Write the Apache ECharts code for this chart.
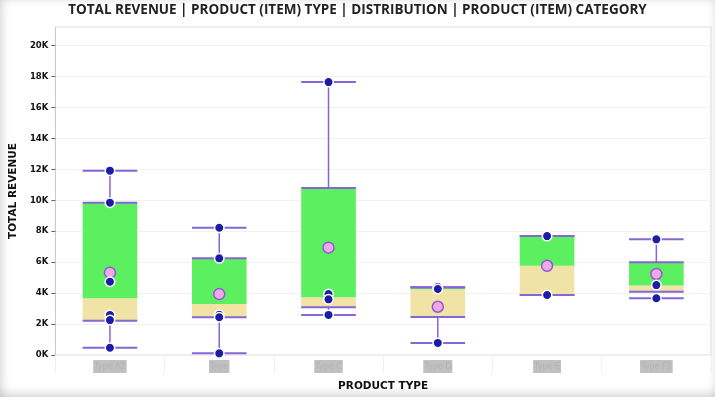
<!DOCTYPE html>
<html>
<head>
<meta charset="utf-8">
<script src="https://cdn.jsdelivr.net/npm/echarts@6/dist/echarts.min.js"></script>
<style>
  html, body { margin: 0; padding: 0; background: #fff; }
  #chart {
    width: 715px;
    height: 397px;
    background: #fff;
    box-shadow: inset 7px 0 8px -4px rgba(0, 0, 0, 0.13),
      inset 0 -11px 10px -6px rgba(0, 0, 0, 0.12),
      inset -5px 0 6px -3px rgba(0, 0, 0, 0.08),
      inset 0 6px 8px -4px rgba(0, 0, 0, 0.05);
  }
</style>
</head>
<body>
<div id="chart"></div>
<script>
// product types (names are blurred in the source picture)
var categories = ["Type A1", "Type", "Type C", "Type D", "Type E", "Type F1"];

// box stats
var lows = [470, 110, 2590, 780, 3880, 3670];
var q1s = [2220, 2440, 3080, 2460, 3880, 4090];
var medians = [3670, 3300, 3730, 4250, 5770, 4500];
var q3s = [9850, 6250, 10800, 4380, 7690, 5990];
var highs = [11920, 8230, 17650, 4380, 7690, 7480];
var means = [5320, 3940, 6940, 3120, 5770, 5240];

// individual points (dark dots)
var points = [
  [11920, 9850, 4740, 2590, 2260, 470],
  [8230, 6250, 2600, 2440, 110],
  [17650, 3940, 3600, 2590],
  [4400, 4270, 780],
  [7690, 3880],
  [7480, 4520, 3670]
];

var yTicks = [0, 2000, 4000, 6000, 8000, 10000, 12000, 14000, 16000, 18000, 20000];

var PURPLE = "#8566d6";
var GREEN = "#5cf060";
var YELLOW = "#f1e3a5";

var boxData = categories.map(function (c, i) {
  return [i, lows[i], q1s[i], medians[i], q3s[i], highs[i]];
});
var dotData = [];
points.forEach(function (arr, i) {
  arr.forEach(function (v) {
    dotData.push([i, v]);
  });
});
var meanData = means.map(function (v, i) {
  return [i, v];
});

function renderBox(params, api) {
  var i = api.value(0);
  var pLow = api.coord([i, api.value(1)]);
  var pQ1 = api.coord([i, api.value(2)]);
  var pMed = api.coord([i, api.value(3)]);
  var pQ3 = api.coord([i, api.value(4)]);
  var pHigh = api.coord([i, api.value(5)]);
  var w = api.size([1, 0])[0] * 0.5;
  var x = pQ1[0];
  var lineStyle = { stroke: PURPLE, lineWidth: 1.5 };
  var edgeStyle = { stroke: PURPLE, lineWidth: 2 };
  return {
    type: "group",
    children: [
      { type: "line", shape: { x1: x, y1: pLow[1], x2: x, y2: pQ1[1] }, style: lineStyle },
      { type: "line", shape: { x1: x, y1: pQ3[1], x2: x, y2: pHigh[1] }, style: lineStyle },
      { type: "rect", shape: { x: x - w / 2, y: pMed[1], width: w, height: pQ1[1] - pMed[1] }, style: { fill: YELLOW } },
      { type: "rect", shape: { x: x - w / 2, y: pQ3[1], width: w, height: pMed[1] - pQ3[1] }, style: { fill: GREEN } },
      { type: "line", shape: { x1: x - w / 2, y1: pLow[1], x2: x + w / 2, y2: pLow[1] }, style: edgeStyle },
      { type: "line", shape: { x1: x - w / 2, y1: pHigh[1], x2: x + w / 2, y2: pHigh[1] }, style: edgeStyle },
      { type: "line", shape: { x1: x - w / 2, y1: pQ1[1], x2: x + w / 2, y2: pQ1[1] }, style: edgeStyle },
      { type: "line", shape: { x1: x - w / 2, y1: pQ3[1], x2: x + w / 2, y2: pQ3[1] }, style: edgeStyle }
    ]
  };
}

var chart = echarts.init(document.getElementById("chart"), null, { renderer: "canvas" });
chart.setOption({
  animation: false,
  title: {
    text: "TOTAL REVENUE | PRODUCT (ITEM) TYPE | DISTRIBUTION | PRODUCT (ITEM) CATEGORY",
    left: "center",
    top: -2,
    textStyle: { fontFamily: "Open Sans", fontWeight: "bold", fontSize: 13.5, color: "#222" }
  },
  grid: {
    left: 52,
    right: 4,
    top: 27,
    bottom: 42,
    show: true,
    borderColor: "#dcdcdc",
    borderWidth: 1
  },
  xAxis: [
    {
      type: "category",
      data: categories,
      name: "PRODUCT TYPE",
      nameLocation: "middle",
      nameGap: 26,
      nameTextStyle: { fontFamily: "DejaVu Sans", fontWeight: "bold", fontSize: 10.5, color: "#111" },
      axisLine: { lineStyle: { color: "#eeeeee" } },
      axisTick: { alignWithLabel: true, length: 5, lineStyle: { color: "#777" } },
      axisLabel: {
        margin: 5,
        formatter: function (v) { return "{b|" + v + "}"; },
        rich: {
          b: {
            fontFamily: "DejaVu Sans",
            fontSize: 8,
            color: "#b4b4b4",
            backgroundColor: "#c0c0c0",
            height: 13,
            padding: [0, 1]
          }
        }
      },
      splitLine: { show: false }
    },
    {
      type: "category",
      data: categories,
      position: "bottom",
      axisLine: { show: false },
      axisTick: { show: true, length: 18, lineStyle: { color: "#f0f0f0" } },
      axisLabel: { show: false }
    }
  ],
  yAxis: {
    type: "value",
    min: 0,
    max: 21210,
    interval: 2000,
    name: "TOTAL REVENUE",
    nameLocation: "middle",
    nameGap: 33,
    nameTextStyle: { fontFamily: "DejaVu Sans", fontWeight: "bold", fontSize: 10.5, color: "#111" },
    axisLine: { show: true, lineStyle: { color: "#cccccc" } },
    axisTick: { show: true, length: 4, lineStyle: { color: "#666" }, customValues: yTicks },
    axisLabel: {
      customValues: yTicks,
      margin: 7,
      fontFamily: "DejaVu Sans",
      fontWeight: "bold",
      fontSize: 8.5,
      color: "#111",
      formatter: function (v) { return v / 1000 + "K"; }
    },
    splitLine: { lineStyle: { color: "#f1f1f1" } }
  },
  series: [
    {
      type: "custom",
      renderItem: renderBox,
      data: boxData,
      encode: { x: 0, y: [1, 2, 3, 4, 5] },
      z: 2
    },
    {
      type: "scatter",
      data: meanData,
      symbolSize: 11,
      itemStyle: { color: "#f0a8e6", borderColor: "#8a5cd6", borderWidth: 1.5, opacity: 1 },
      z: 3
    },
    {
      type: "scatter",
      data: dotData,
      symbolSize: 9.5,
      itemStyle: { color: "#1c1ca4", borderColor: "#ffffff", borderWidth: 1.5, opacity: 1 },
      z: 4
    }
  ]
});
</script>
</body>
</html>
